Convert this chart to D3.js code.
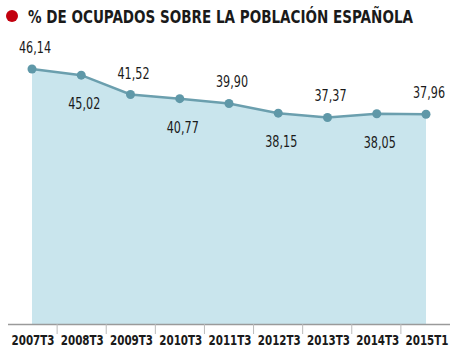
<!DOCTYPE html>
<html><head><meta charset="utf-8">
<script src="https://cdn.jsdelivr.net/npm/d3@7"></script>
<style>body{margin:0;background:#fff}svg{display:block}</style>
</head><body>
<svg id="c" width="470" height="353"></svg>
<script>
const categories = ["2007T3","2008T3","2009T3","2010T3","2011T3","2012T3","2013T3","2014T3","2015T1"];
const tickLabels = ["2007T3","2008T3","2009T3","2010T3","2011T3","2012T3","2013T3","2014T3","2015T1"];
const values = [46.14,45.02,41.52,40.77,39.90,38.15,37.37,38.05,37.96];
const valueLabels = ["46,14","45,02","41,52","40,77","39,90","38,15","37,37","38,05","37,96"];
const labelAbove = [true,false,true,false,true,false,true,false,true];
const title = "% DE OCUPADOS SOBRE LA POBLACIÓN ESPAÑOLA";

const svg = d3.select("#c");
const font = "'DejaVu Sans Condensed','DejaVu Sans',sans-serif";

svg.append("circle").attr("cx",12).attr("cy",16).attr("r",6).attr("fill","#c2000e");
svg.append("text").attr("x",28).attr("y",23).text(title)
  .attr("font-family",font).attr("font-weight","bold").attr("font-size",17).attr("fill","#1a1a1a")
  .attr("textLength",385).attr("lengthAdjust","spacingAndGlyphs");

const x = d3.scalePoint().domain(categories).range([32,426]);
const y = d3.scaleLinear().domain([0,46.14]).range([324,69]);

const data = categories.map((c,i)=>({c,v:values[i],l:valueLabels[i],a:labelAbove[i]}));

svg.append("path").datum(data)
  .attr("d", d3.area().x(d=>x(d.c)).y0(y(0)).y1(d=>y(d.v)))
  .attr("fill","#c9e5ed");
svg.append("path").datum(data)
  .attr("d", d3.line().x(d=>x(d.c)).y(d=>y(d.v)))
  .attr("fill","none").attr("stroke","#6b9fae").attr("stroke-width",2.5);
svg.selectAll("circle.pt").data(data).join("circle").attr("class","pt")
  .attr("cx",d=>x(d.c)).attr("cy",d=>y(d.v)).attr("r",4.5).attr("fill","#5f98a8");
svg.selectAll("text.vl").data(data).join("text").attr("class","vl")
  .attr("x",d=>x(d.c)+3).attr("y",d=>y(d.v)+(d.a?-16:34))
  .attr("text-anchor","middle").attr("font-family",font).attr("font-size",15)
  .attr("textLength",32).attr("lengthAdjust","spacingAndGlyphs")
  .attr("fill","#1a1a1a").text(d=>d.l);

// axis
const band = d3.scaleBand().domain(categories).range([8,450]);
svg.append("line").attr("x1",8).attr("x2",450).attr("y1",324.5).attr("y2",324.5)
  .attr("stroke","#9a9a9a").attr("stroke-width",1.5);
svg.selectAll("line.tk").data(categories.slice(1)).join("line").attr("class","tk")
  .attr("x1",d=>band(d)).attr("x2",d=>band(d)).attr("y1",324).attr("y2",334)
  .attr("stroke","#bbbbbb").attr("stroke-width",1);
svg.selectAll("text.xl").data(categories).join("text").attr("class","xl")
  .attr("x",d=>x(d)+1).attr("y",345)
  .attr("text-anchor","middle").attr("font-family",font).attr("font-weight","bold")
  .attr("font-size",14).attr("textLength",43).attr("lengthAdjust","spacingAndGlyphs")
  .attr("fill","#1a1a1a").text((d,i)=>tickLabels[i]);
</script>
</body></html>
